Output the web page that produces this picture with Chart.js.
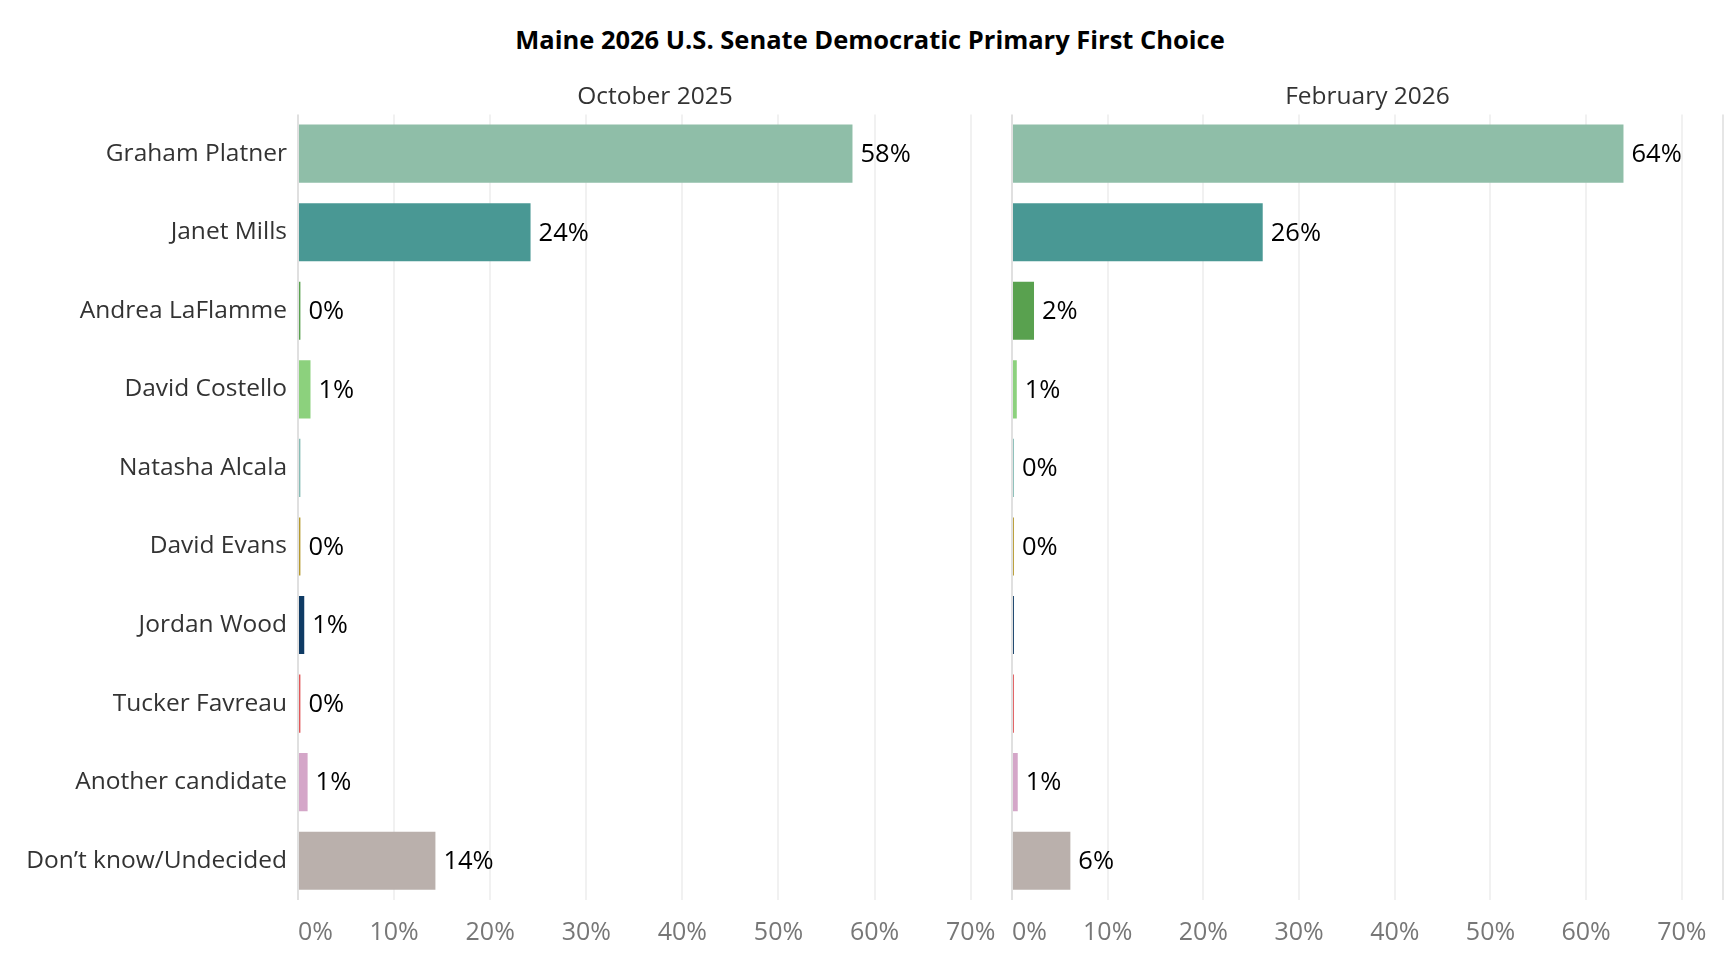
<!DOCTYPE html>
<html>
<head>
<meta charset="utf-8">
<script src="https://cdn.jsdelivr.net/npm/chart.js@4.4.1/dist/chart.umd.min.js"></script>
<style>
  body { margin: 0; background: #fff; overflow: hidden; }
  #title { position: absolute; left: 0; top: 24px; width: 1740px; text-align: center;
           font: bold 25.5px "Open Sans"; line-height: 30px; color: #000; }
  #left { position: absolute; left: 0; top: 0; width: 1030px; height: 957px; }
  #right { position: absolute; left: 994px; top: 0; width: 747px; height: 957px; }
</style>
</head>
<body>
<div id="title">Maine 2026 U.S. Senate Democratic Primary First Choice</div>
<div id="left"><canvas id="octChart"></canvas></div>
<div id="right"><canvas id="febChart"></canvas></div>
<script>
// ===== データ =====
const candidates = [
  "Graham Platner", "Janet Mills", "Andrea LaFlamme", "David Costello",
  "Natasha Alcala", "David Evans", "Jordan Wood", "Tucker Favreau",
  "Another candidate", "Don’t know/Undecided"
];
const barColors = [
  "#8fbea8", "#499894", "#59a14f", "#8cd17d", "#86bcb6",
  "#b6992d", "#0f3b64", "#e15759", "#d4a6c8", "#bab0ac"
];
const octValues = [57.7, 24.2, 0.25, 1.3, 0.25, 0.25, 0.65, 0.25, 1.0, 14.3];
const octLabels = ["58%", "24%", "0%", "1%", "", "0%", "1%", "0%", "1%", "14%"];
const febValues = [63.9, 26.2, 2.3, 0.5, 0.2, 0.2, 0.2, 0.2, 0.6, 6.1];
const febLabels = ["64%", "26%", "2%", "1%", "0%", "0%", "", "", "1%", "6%"];
const axisTicks = [0, 10, 20, 30, 40, 50, 60, 70];
const axisMax = 74.3;

const FONT = "Open Sans";
const TICK_PAD = 18;

// バーの右に値ラベル
const valueLabels = {
  id: "valueLabels",
  afterDatasetsDraw(chart, args, opts) {
    const ctx = chart.ctx;
    const meta = chart.getDatasetMeta(0);
    ctx.save();
    ctx.font = "25.5px '" + FONT + "'";
    ctx.fillStyle = "#000";
    ctx.textBaseline = "middle";
    meta.data.forEach((bar, i) => {
      const txt = opts.texts[i];
      if (txt) ctx.fillText(txt, bar.x + 8, bar.y + 1);
    });
    ctx.restore();
  }
};

function makeChart(id, header, values, texts, showNames, lastLine) {
  const yScale = {
    display: showNames,
    grid: { display: false, drawTicks: false },
    border: { display: false },
    ticks: {
      padding: 11,
      color: "#333",
      font: { family: FONT, size: 24.5 }
    }
  };
  // 左パネルだけ項目名の幅を固定
  if (showNames) yScale.afterFit = s => { s.width = 298; };

  return new Chart(document.getElementById(id), {
    type: "bar",
    data: {
      labels: candidates,
      datasets: [{
        data: values,
        backgroundColor: barColors,
        barPercentage: 0.74,
        categoryPercentage: 1
      }]
    },
    options: {
      indexAxis: "y",
      responsive: true,
      maintainAspectRatio: false,
      animation: false,
      layout: { padding: { left: 0, right: 0, top: 0, bottom: -9 } },
      scales: {
        x: {
          min: 0,
          max: axisMax,
          afterBuildTicks: s => {
            s.ticks = axisTicks.map(v => ({ value: v })).concat([{ value: axisMax }]);
          },
          border: { display: false },
          grid: {
            drawTicks: false,
            lineWidth: 2,
            color: c => {
              if (c.tick.value === 0) return "#e0e0e0";
              if (c.tick.value === axisMax) return lastLine;
              return "#f1f1f1";
            }
          },
          ticks: {
            align: "inner",
            padding: TICK_PAD,
            maxRotation: 0,
            color: "#777",
            font: { family: FONT, size: 25 },
            callback: v => axisTicks.includes(v) ? v + "%" : ""
          }
        },
        y: yScale
      },
      plugins: {
        legend: { display: false },
        tooltip: { enabled: false },
        title: {
          display: true,
          text: header,
          fullSize: false,
          color: "#333",
          font: { family: FONT, size: 24.5, weight: "normal" },
          padding: { top: 82, bottom: 3 }
        },
        valueLabels: { texts: texts }
      }
    },
    plugins: [valueLabels]
  });
}

makeChart("octChart", "October 2025", octValues, octLabels, true, "rgba(0,0,0,0)");
makeChart("febChart", "February 2026", febValues, febLabels, false, "#e6e6e6");
</script>
</body>
</html>
